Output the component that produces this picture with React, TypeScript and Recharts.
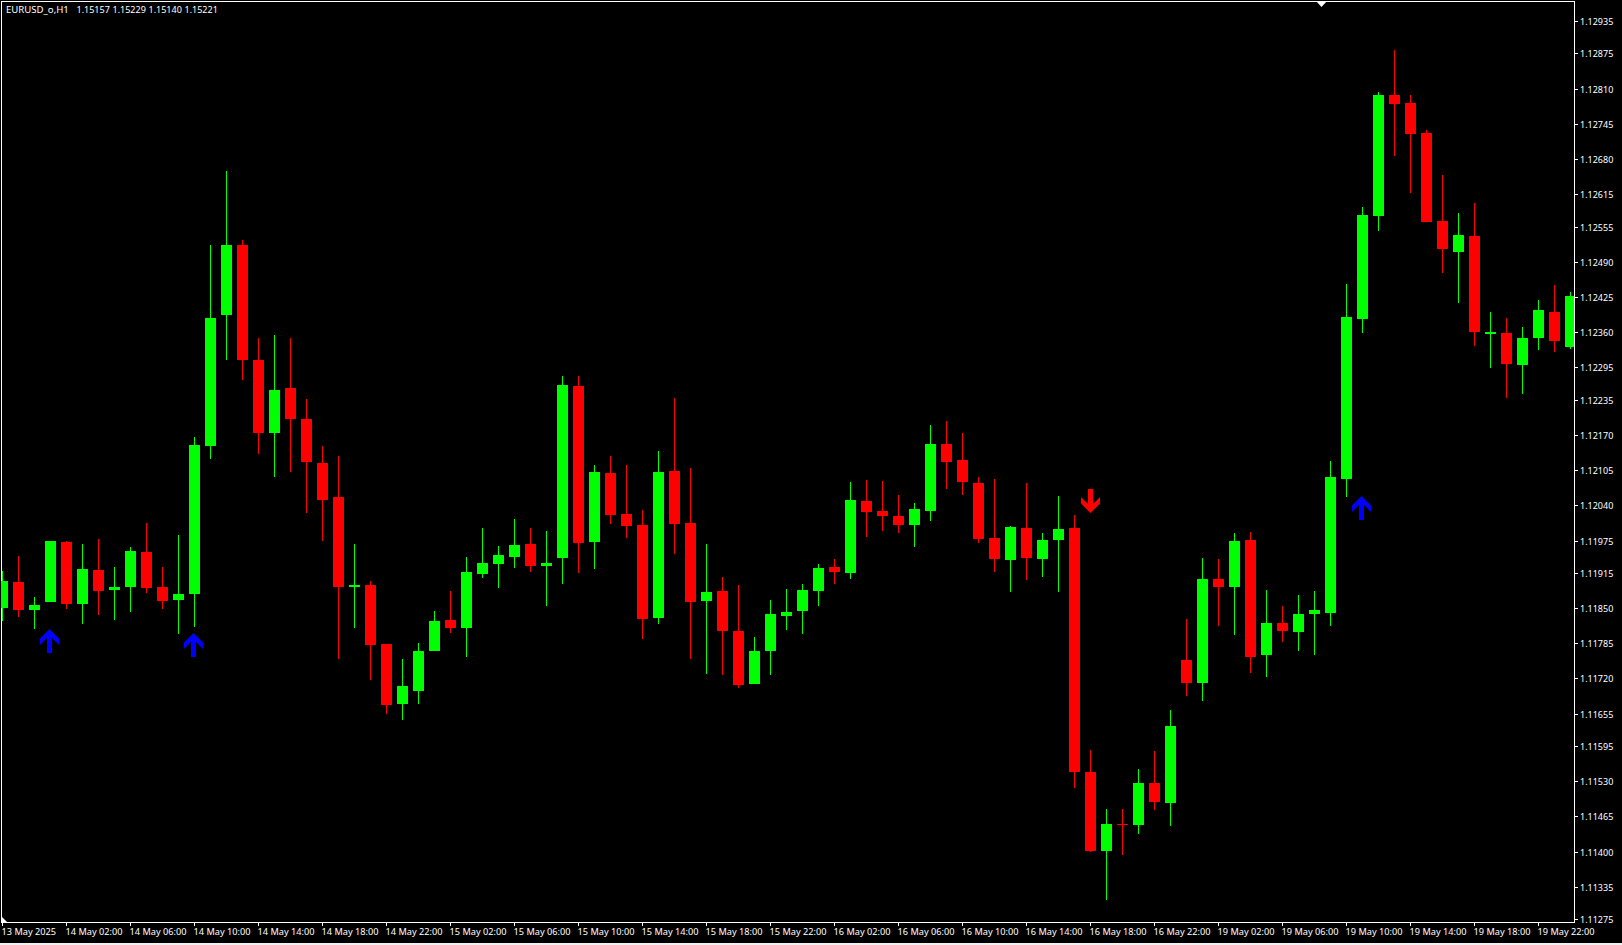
import { Bar, ComposedChart, Scatter, XAxis, YAxis } from "recharts";

const WIDTH = 1622;
const HEIGHT = 945;
const UP = "#00ff00";
const DOWN = "#ff0000";
const FONT = "'Noto Sans', sans-serif";

const opens = [
  1.11850,1.11898,1.11847,1.11861,1.11972,1.11858,1.11920,1.11884,1.11889,1.11954,
  1.11889,1.11865,1.11876,1.12150,1.12392,1.12521,1.12309,1.12174,1.12257,1.12200,
  1.12118,1.12055,1.11889,1.11893,1.11784,1.11673,1.11697,1.11771,1.11828,1.11813,
  1.11913,1.11932,1.11945,1.11969,1.11928,1.11943,1.12261,1.11972,1.12100,1.12024,
  1.12004,1.11832,1.12103,1.12007,1.11863,1.11882,1.11808,1.11710,1.11771,1.11836,
  1.11845,1.11882,1.11926,1.11915,1.12048,1.12030,1.12020,1.12004,1.12030,1.12153,
  1.12124,1.12081,1.11980,1.11939,1.11998,1.11941,1.11976,1.11998,1.11547,1.11401,
  1.11451,1.11449,1.11527,1.11490,1.11754,1.11712,1.11904,1.11889,1.11976,1.11763,
  1.11822,1.11806,1.11839,1.11841,1.12089,1.12384,1.12575,1.12798,1.12784,1.12728,
  1.12565,1.12508,1.12538,1.12357,1.12359,1.12299,1.12349,1.12397,1.12333,
];
const highs = [
  1.11919,1.11946,1.11871,1.11974,1.11974,1.11969,1.11978,1.11926,1.11963,1.12007,
  1.11926,1.11985,1.12166,1.12521,1.12658,1.12530,1.12349,1.12355,1.12349,1.12236,
  1.12150,1.12131,1.11969,1.11900,1.11784,1.11756,1.11786,1.11845,1.11882,1.11945,
  1.11998,1.11965,1.12015,1.11998,1.11992,1.12279,1.12279,1.12115,1.12131,1.12115,
  1.12031,1.12140,1.12238,1.12109,1.11969,1.11908,1.11893,1.11797,1.11865,1.11885,
  1.11895,1.11932,1.11941,1.12083,1.12087,1.12085,1.12059,1.12044,1.12188,1.12196,
  1.12174,1.12092,1.12089,1.12002,1.12081,1.11989,1.12057,1.12022,1.11588,1.11479,
  1.11479,1.11553,1.11586,1.11662,1.11830,1.11943,1.11941,1.11989,1.11991,1.11884,
  1.11854,1.11874,1.11882,1.12122,1.12449,1.12591,1.12804,1.12881,1.12798,1.12734,
  1.12650,1.12580,1.12599,1.12397,1.12386,1.12370,1.12419,1.12447,1.12434,
];
const lows = [
  1.11826,1.11834,1.11811,1.11861,1.11848,1.11821,1.11837,1.11828,1.11843,1.11878,
  1.11848,1.11802,1.11815,1.12126,1.12309,1.12272,1.12135,1.12092,1.12102,1.12026,
  1.11974,1.11756,1.11813,1.11717,1.11654,1.11643,1.11673,1.11771,1.11804,1.11760,
  1.11906,1.11887,1.11924,1.11917,1.11854,1.11895,1.11915,1.11922,1.12006,1.11980,
  1.11793,1.11821,1.11950,1.11756,1.11728,1.11726,1.11702,1.11710,1.11726,1.11810,
  1.11802,1.11854,1.11895,1.11904,1.11981,1.11992,1.11989,1.11963,1.12011,1.12070,
  1.12059,1.11970,1.11917,1.11880,1.11902,1.11908,1.11880,1.11518,1.11399,1.11311,
  1.11394,1.11433,1.11477,1.11447,1.11688,1.11678,1.11817,1.11800,1.11730,1.11723,
  1.11787,1.11771,1.11763,1.11817,1.12055,1.12359,1.12547,1.12686,1.12617,1.12564,
  1.12469,1.12414,1.12334,1.12294,1.12238,1.12246,1.12327,1.12323,1.12329,
];
const closes = [
  1.11900,1.11847,1.11856,1.11974,1.11858,1.11922,1.11882,1.11889,1.11956,1.11887,
  1.11863,1.11876,1.12152,1.12386,1.12521,1.12309,1.12174,1.12253,1.12200,1.12120,
  1.12050,1.11889,1.11893,1.11782,1.11671,1.11706,1.11771,1.11826,1.11813,1.11917,
  1.11933,1.11948,1.11967,1.11928,1.11933,1.12262,1.11970,1.12102,1.12022,1.12002,
  1.11830,1.12102,1.12006,1.11861,1.11880,1.11808,1.11708,1.11771,1.11839,1.11843,
  1.11884,1.11924,1.11917,1.12050,1.12028,1.12020,1.12004,1.12033,1.12153,1.12120,
  1.12083,1.11978,1.11941,1.12000,1.11943,1.11976,1.11996,1.11547,1.11401,1.11451,
  1.11449,1.11527,1.11492,1.11632,1.11712,1.11904,1.11889,1.11974,1.11760,1.11822,
  1.11808,1.11839,1.11847,1.12092,1.12388,1.12577,1.12798,1.12782,1.12726,1.12564,
  1.12514,1.12540,1.12360,1.12360,1.12301,1.12349,1.12401,1.12344,1.12427,
];

const priceTicks = [
  1.12935,1.12875,1.12810,1.12745,1.12680,1.12615,1.12555,1.12490,1.12425,
  1.12360,1.12295,1.12235,1.12170,1.12105,1.12040,1.11975,1.11915,1.11850,
  1.11785,1.11720,1.11655,1.11595,1.11530,1.11465,1.11400,1.11335,1.11275,
];
const timeLabels = [
  "13 May 2025","14 May 02:00","14 May 06:00","14 May 10:00","14 May 14:00",
  "14 May 18:00","14 May 22:00","15 May 02:00","15 May 06:00","15 May 10:00",
  "15 May 14:00","15 May 18:00","15 May 22:00","16 May 02:00","16 May 06:00",
  "16 May 10:00","16 May 14:00","16 May 18:00","16 May 22:00","19 May 02:00",
  "19 May 06:00","19 May 10:00","19 May 14:00","19 May 18:00","19 May 22:00",
];
const timeTicks = timeLabels.map((_, i) => i * 4);

// signal arrows: candle index and the price the arrow tip sits on
const buySignals = [
  { idx: 3, price: 1.11811 },
  { idx: 12, price: 1.11804 },
  { idx: 85, price: 1.12057 },
];
const sellSignals = [{ idx: 68, price: 1.12026 }];

const rows = opens.map((open, i) => ({
  idx: i,
  open,
  close: closes[i],
  range: [lows[i], highs[i]],
}));

function Candle(props: any) {
  const { x, y, width, height, payload } = props;
  const [low, high] = payload.range;
  const yOf = (p: number) => y + ((high - p) / (high - low)) * height;
  const color = payload.close >= payload.open ? UP : DOWN;
  const top = Math.round(yOf(Math.max(payload.open, payload.close)));
  const bottom = Math.round(yOf(Math.min(payload.open, payload.close)));
  const center = Math.floor(x + width / 2);
  return (
    <g shapeRendering="crispEdges">
      <rect x={center} y={Math.round(y)} width={1} height={Math.round(height)} fill={color} />
      <rect x={center - 5} y={top} width={11} height={Math.max(bottom - top, 1)} fill={color} />
    </g>
  );
}

function BuyArrow({ cx, cy }: any) {
  const x = Math.floor(cx) - 0.5;
  const y = Math.round(cy);
  return (
    <polygon
      fill="#0000ff"
      points={`${x},${y} ${x + 9.5},${y + 9.5} ${x + 9.5},${y + 16} ${x + 2.5},${y + 9} ${x + 2.5},${y + 24} ${x - 2.5},${y + 24} ${x - 2.5},${y + 9} ${x - 9.5},${y + 16} ${x - 9.5},${y + 9.5}`}
    />
  );
}

function SellArrow({ cx, cy }: any) {
  const x = Math.floor(cx) + 0.5;
  const y = Math.round(cy);
  return (
    <polygon
      fill={DOWN}
      points={`${x},${y} ${x + 9.5},${y - 9.5} ${x + 9.5},${y - 16} ${x + 2.5},${y - 9} ${x + 2.5},${y - 24} ${x - 2.5},${y - 24} ${x - 2.5},${y - 9} ${x - 9.5},${y - 16} ${x - 9.5},${y - 9.5}`}
    />
  );
}

function TimeTick({ x, payload }: any) {
  const px = Math.floor(x);
  return (
    <g>
      <rect x={px} y={923} width={1} height={3} fill="#fff" shapeRendering="crispEdges" />
      <text x={px - 0.5} y={935} fill="#fff" fontSize={9.2} fontFamily={FONT}>
        {timeLabels[payload.value / 4]}
      </text>
    </g>
  );
}

function PriceTick({ y, payload }: any) {
  const py = Math.round(y);
  return (
    <g>
      <rect x={1575} y={py} width={3} height={1} fill="#fff" shapeRendering="crispEdges" />
      <text x={1580} y={py + 4} fill="#fff" fontSize={9} fontFamily={FONT}>
        {payload.value.toFixed(5)}
      </text>
    </g>
  );
}

export default function App() {
  return (
    <div style={{ position: "absolute", left: 0, top: 0, width: WIDTH, height: HEIGHT, background: "#000" }}>
      <ComposedChart
        width={WIDTH}
        height={HEIGHT}
        data={rows}
        margin={{ top: 1, right: 0, bottom: 0, left: 1 }}
      >
        <XAxis
          dataKey="idx"
          type="number"
          domain={[-0.09375, 98.21875]}
          allowDataOverflow
          ticks={timeTicks}
          interval={0}
          height={23}
          axisLine={false}
          tickLine={false}
          tick={<TimeTick />}
        />
        <YAxis
          orientation="right"
          domain={[1.1127, 1.12972]}
          ticks={priceTicks}
          interval={0}
          width={48}
          axisLine={false}
          tickLine={false}
          tick={<PriceTick />}
        />
        <Bar dataKey="range" barSize={11} shape={<Candle />} isAnimationActive={false} />
        <Scatter data={buySignals} dataKey="price" shape={<BuyArrow />} isAnimationActive={false} />
        <Scatter data={sellSignals} dataKey="price" shape={<SellArrow />} isAnimationActive={false} />
        <rect x={1.5} y={1.5} width={1573} height={921} fill="none" stroke="#fff" shapeRendering="crispEdges" />
        <polygon points="1316,1 1327,1 1321.5,7" fill="#fff" />
        <polygon points="2,917 7,922 2,922" fill="#fff" />
        <rect x={0} y={943} width={WIDTH} height={2} fill="#f0f0f0" />
        <text y={13} fill="#fff" fontSize={9} fontFamily={FONT}>
          <tspan x={6} fontSize={9.6}>EURUSD_o,H1</tspan>
          <tspan x={76.5}>1.15157</tspan>
          <tspan x={112.5}>1.15229</tspan>
          <tspan x={148.5}>1.15140</tspan>
          <tspan x={184.5}>1.15221</tspan>
        </text>
      </ComposedChart>
    </div>
  );
}
